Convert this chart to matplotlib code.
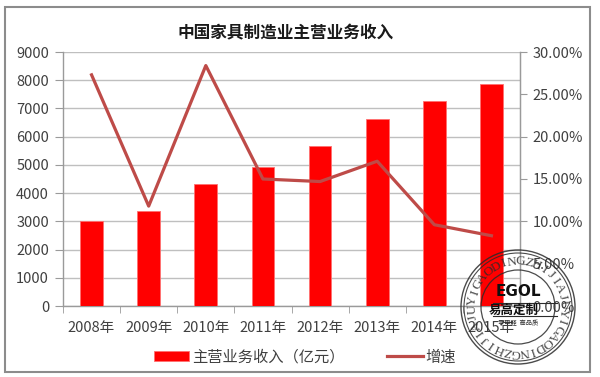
import numpy as np
import matplotlib
matplotlib.use('Agg')
import matplotlib.pyplot as plt
from matplotlib.patches import Circle, Rectangle
from matplotlib.ticker import FuncFormatter

plt.rcParams['font.family'] = ['Noto Sans CJK SC', 'DejaVu Sans']

# data
years = ['2008年', '2009年', '2010年', '2011年', '2012年', '2013年', '2014年', '2015年']
revenue = [3010, 3370, 4310, 4940, 5685, 6640, 7280, 7870]
growth = [27.3, 11.8, 28.4, 15.0, 14.7, 17.1, 9.6, 8.3]

title = '中国家具制造业主营业务收入'
bar_label = '主营业务收入（亿元）'
line_label = '增速'

W, H = 600, 377
fig = plt.figure(figsize=(W / 100, H / 100), dpi=100)

ax = fig.add_axes([63 / W, 1 - 306 / H, 457 / W, 254 / H])
x = np.arange(len(years))
bars = ax.bar(x, revenue, width=0.4, color='#FF0000', edgecolor='#FF7070',
              linewidth=0.6, zorder=3, label=bar_label)
ax.set_xlim(-0.5, len(years) - 0.5)
ax.set_ylim(0, 9000)
ax.set_yticks(range(0, 9001, 1000))
ax.grid(axis='y', color='#BFBFBF', linewidth=1.0, zorder=0)
ax.set_xticks(x)
ax.set_xticklabels(years)
ax.set_xticks(np.arange(-0.5, len(years)), minor=True)
ax.tick_params(axis='x', which='major', length=0, pad=11, labelsize=10.5, colors='#404040')
ax.tick_params(axis='x', which='minor', length=5, color='#9A9A9A', direction='out')
ax.tick_params(axis='y', length=6, color='#9A9A9A', direction='out', labelsize=10.5,
               labelcolor='#404040', pad=4)
ax.spines['top'].set_visible(False)
for side in ['left', 'bottom', 'right']:
    ax.spines[side].set_color('#9A9A9A')
    ax.spines[side].set_linewidth(1.0)

ax2 = ax.twinx()
line, = ax2.plot(x, growth, color='#BE4B48', linewidth=2.3, zorder=4, label=line_label)
ax2.set_ylim(0, 30)
ax2.set_yticks(range(0, 31, 5))
ax2.yaxis.set_major_formatter(FuncFormatter(lambda v, p: f'{v:.2f}%'))
ax2.tick_params(axis='y', length=5, color='#9A9A9A', direction='out', labelsize=10.5,
                labelcolor='#404040', pad=4)
for side in ['top', 'left', 'bottom']:
    ax2.spines[side].set_visible(False)
ax2.spines['right'].set_color('#9A9A9A')

fig.text(286 / W, 1 - 33 / H, title, ha='center', va='center', fontsize=12,
         fontweight='bold', color='#1A1A1A')

leg = fig.legend([bars, line], [bar_label, line_label], loc='center',
                 bbox_to_anchor=(305 / W, 1 - 357 / H), ncol=2, frameon=False,
                 fontsize=11, handlelength=2.3, handleheight=0.55,
                 columnspacing=2.8, handletextpad=0.2)
for t in leg.get_texts():
    t.set_color('#404040')

# overlay in pixel coordinates: outer frame and the stamp watermark
ov = fig.add_axes([0, 0, 1, 1], zorder=10)
ov.set_xlim(0, W)
ov.set_ylim(0, H)
ov.axis('off')
ov.patch.set_alpha(0)
ov.add_patch(Rectangle((5, H - 372), 585, 365, fill=False, edgecolor='#8C8C8C', linewidth=1.5))

cx, cy = 518, H - 307
ink = '#2B2B2B'
for r, lw in [(57, 1.0), (54, 0.8), (37, 0.9)]:
    ov.add_patch(Circle((cx, cy), r, fill=False, edgecolor=ink, linewidth=lw, alpha=0.85))
ring = 'YIGAODINGZHIJIAJU' * 2
start = 172
for i, ch in enumerate(ring):
    th = np.deg2rad(start - i * 360 / len(ring))
    ov.text(cx + 45.5 * np.cos(th), cy + 45.5 * np.sin(th), ch,
            rotation=np.rad2deg(th) - 90, ha='center', va='center',
            fontsize=9.5, family='Liberation Serif', color=ink, alpha=0.85)
ov.text(cx, H - 292, 'EGOL', ha='center', va='center', fontsize=11,
        fontweight='bold', family='DejaVu Sans', color='#111111')
ov.plot([493, 557], [H - 303, H - 303], color=ink, linewidth=0.8)
ov.plot([493, 557], [H - 316, H - 316], color=ink, linewidth=0.8)
ov.text(cx - 4, H - 310, '易高定制', ha='center', va='center', fontsize=9,
        fontweight='bold', color='#111111')
ov.text(cx, H - 323, '零甲醛  高品质', ha='center', va='center', fontsize=4.5,
        color=ink)

fig.savefig('out.png', dpi=100)
